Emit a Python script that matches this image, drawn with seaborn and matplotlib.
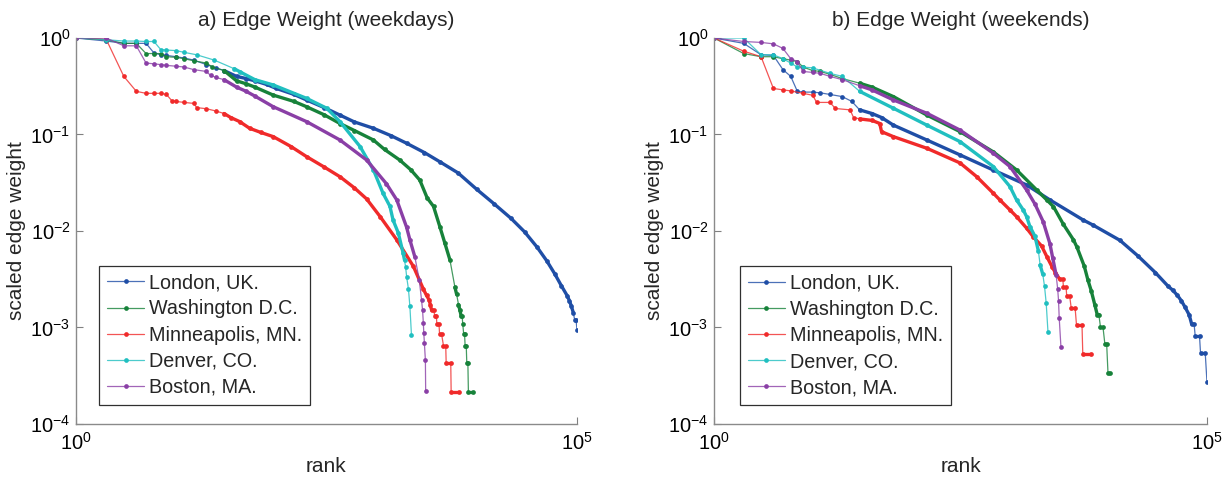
import matplotlib
matplotlib.use("Agg")
import matplotlib.pyplot as plt
import seaborn as sns
import pandas as pd
import numpy as np
from matplotlib.ticker import LogLocator, NullLocator, FixedLocator

sns.set_style("white")
plt.rcParams["font.family"] = ["Liberation Sans", "DejaVu Sans"]
plt.rcParams["mathtext.fontset"] = "custom"
plt.rcParams["mathtext.rm"] = "Liberation Sans"

cities = ["London, UK.", "Washington D.C.", "Minneapolis, MN.", "Denver, CO.", "Boston, MA."]
colors = ["#1f4ea6", "#17823a", "#f02a2a", "#20bfc0", "#8a3fa6"]
titles = ["a) Edge Weight (weekdays)", "b) Edge Weight (weekends)"]

# ---------------- weekdays ----------------
wd_london_rank = [1, 2, 3, 4, 5, 6, 7, 8, 10, 12, 15, 20, 25, 30, 40, 50, 61, 80, 100, 150, 200, 300, 430, 600,
                  930, 1400, 2000, 3000, 4300, 6500, 10000, 15000, 22000, 30000, 40000, 50000, 60000, 70000,
                  80000, 84000, 88000, 92000, 95000, 98000, 100000]
wd_london_w = [1.0, 0.93, 0.88, 0.88, 0.88, 0.70, 0.67, 0.66, 0.64, 0.62, 0.59, 0.53, 0.49, 0.46, 0.40, 0.38, 0.36,
               0.33, 0.30, 0.26, 0.228, 0.19, 0.159, 0.135, 0.116, 0.097, 0.081, 0.065, 0.052, 0.040, 0.027,
               0.019, 0.0135, 0.0098, 0.0068, 0.0049, 0.0036, 0.0027, 0.00213, 0.0019, 0.00166, 0.00142,
               0.00119, 0.00119, 0.00095]

wd_wash_rank = [1, 2, 3, 4, 5, 6, 7, 8, 10, 12, 15, 20, 23, 30, 40, 50, 61, 93, 150, 200, 300, 431, 600, 930,
                1200, 1700, 2200, 2700, 3200, 3700, 4290, 4800, 5400, 6060, 6300, 6570, 6800, 7000, 7150, 7250,
                7400, 7550, 7650, 7850, 7950, 8150, 8250, 9200]
wd_wash_w = [1.0, 0.96, 0.88, 0.88, 0.69, 0.69, 0.69, 0.64, 0.63, 0.61, 0.58, 0.55, 0.50, 0.46, 0.36, 0.335,
             0.31, 0.256, 0.22, 0.194, 0.16, 0.13, 0.11, 0.0877, 0.07, 0.0544, 0.043, 0.0337, 0.022, 0.018,
             0.011, 0.0075, 0.005, 0.0026, 0.0022, 0.00173, 0.0015, 0.0013, 0.0013, 0.00108, 0.00086,
             0.00086, 0.00065, 0.00065, 0.00043, 0.00043, 0.000216, 0.000216]

wd_minn_rank = [1, 2, 3, 4, 5, 6, 7, 8, 9, 10, 12, 15, 16, 20, 25, 30, 35, 43, 54, 70, 93, 140, 200, 300, 431,
                600, 795, 1085, 1590, 2330, 2930, 3150, 3350, 3450, 3550, 3740, 3800, 3950, 4000, 4200, 4250,
                4450, 4650, 4900, 4950, 5500, 5550, 6700]
wd_minn_w = [1.0, 0.97, 0.40, 0.28, 0.267, 0.267, 0.267, 0.26, 0.225, 0.22, 0.215, 0.21, 0.19, 0.185, 0.175,
             0.165, 0.15, 0.136, 0.116, 0.105, 0.095, 0.075, 0.059, 0.046, 0.0365, 0.028, 0.0215, 0.0141,
             0.0081, 0.0043, 0.0025, 0.00215, 0.00193, 0.0017, 0.0015, 0.0015, 0.0013, 0.0013, 0.00108,
             0.00108, 0.00086, 0.00086, 0.00065, 0.00065, 0.00043, 0.00043, 0.000215, 0.000215]

wd_denv_rank = [1, 2, 3, 4, 5, 6, 7, 8, 10, 12, 16, 24, 38, 43, 61, 93, 200, 318, 431, 684, 930, 1160, 1360,
                1460, 1650, 1840, 1900, 1950, 2000, 2080, 2150, 2230]
wd_denv_w = [1.0, 0.96, 0.93, 0.93, 0.92, 0.92, 0.76, 0.75, 0.74, 0.71, 0.67, 0.59, 0.48, 0.448, 0.37, 0.326,
             0.237, 0.187, 0.136, 0.075, 0.043, 0.0246, 0.018, 0.013, 0.0095, 0.0059, 0.005, 0.0042, 0.0033,
             0.0025, 0.00166, 0.00083]

wd_bost_rank = [1, 2, 3, 4, 5, 6, 7, 8, 10, 12, 15, 20, 22, 25, 30, 40, 50, 61, 93, 200, 431, 795, 1250, 1590,
                1990, 2150, 2410, 2670, 2810, 2880, 2930, 2960, 3000, 3070, 3090]
wd_bost_w = [1.0, 1.0, 0.83, 0.83, 0.55, 0.54, 0.53, 0.52, 0.51, 0.50, 0.47, 0.45, 0.41, 0.39, 0.37, 0.31,
             0.28, 0.25, 0.194, 0.136, 0.0877, 0.0544, 0.031, 0.021, 0.011, 0.0081, 0.0054, 0.0031, 0.00193,
             0.0015, 0.0011, 0.00088, 0.00069, 0.00046, 0.00022]

# ---------------- weekends ----------------
we_london_rank = [1, 2, 3, 4, 5, 6, 7, 8, 10, 12, 15, 20, 25, 30, 40, 50, 66, 144, 313, 681, 1480, 2550, 5550,
                  7000, 13100, 20000, 30000, 40000, 45000, 50000, 55000, 60000, 66000, 70000, 74000, 76000,
                  84000, 86000, 96000, 100000]
we_london_w = [1.0, 0.88, 0.67, 0.66, 0.47, 0.40, 0.28, 0.275, 0.275, 0.27, 0.26, 0.247, 0.22, 0.18, 0.165,
               0.15, 0.125, 0.0877, 0.0614, 0.0428, 0.030, 0.021, 0.013, 0.0115, 0.0080, 0.0055, 0.0037,
               0.0027, 0.00243, 0.00216, 0.00189, 0.00162, 0.00135, 0.00108, 0.00108, 0.00081, 0.00081,
               0.00054, 0.00054, 0.00027]

we_wash_rank = [1, 2, 3, 4, 5, 6, 7, 8, 10, 12, 15, 20, 30, 40, 66, 144, 313, 681, 1175, 1875, 2370, 2770,
                3480, 4420, 4800, 5700, 6200, 6700, 7300, 7700, 8000, 8300, 8800, 9200, 9600, 9900, 10500]
we_wash_w = [1.0, 0.69, 0.64, 0.64, 0.61, 0.59, 0.57, 0.50, 0.46, 0.45, 0.42, 0.38, 0.34, 0.31, 0.247, 0.159,
             0.107, 0.066, 0.0428, 0.0266, 0.021, 0.0179, 0.0118, 0.0081, 0.0068, 0.0043, 0.0031, 0.0024,
             0.0017, 0.00136, 0.00136, 0.00102, 0.00102, 0.00068, 0.00068, 0.00034, 0.00034]

we_minn_rank = [1, 2, 3, 4, 5, 6, 8, 10, 11, 15, 17, 24, 26, 30, 40, 48, 50, 66, 144, 313, 461, 681, 792,
                1005, 1170, 1480, 1730, 2100, 2380, 2700, 2900, 3220, 3450, 3500, 3720, 3780, 4050, 4200, 4600,
                4750, 5400, 5500, 6700]
we_minn_w = [1.0, 0.73, 0.64, 0.30, 0.29, 0.283, 0.267, 0.255, 0.215, 0.215, 0.186, 0.18, 0.15, 0.145, 0.14,
             0.13, 0.107, 0.095, 0.072, 0.0507, 0.0366, 0.0246, 0.021, 0.0165, 0.0141, 0.0107, 0.0087, 0.007,
             0.0054, 0.0042, 0.0037, 0.00315, 0.00315, 0.00263, 0.00263, 0.0021, 0.0021, 0.00158, 0.00158,
             0.00105, 0.00105, 0.000525, 0.000525]

we_denv_rank = [1, 2, 3, 4, 5, 6, 7, 8, 10, 15, 20, 30, 66, 144, 313, 681, 1005, 1170, 1370, 1480, 1600, 1800,
                1950, 2030, 2160, 2250, 2340, 2440]
we_denv_w = [1.0, 1.0, 0.67, 0.67, 0.61, 0.55, 0.50, 0.50, 0.49, 0.43, 0.40, 0.28, 0.187, 0.125, 0.0843,
             0.0465, 0.0288, 0.021, 0.0165, 0.0141, 0.0111, 0.0088, 0.0062, 0.00445, 0.00356, 0.00267,
             0.00178, 0.00089]

we_bost_rank = [1, 2, 3, 4, 5, 6, 7, 8, 10, 12, 15, 20, 30, 40, 66, 144, 313, 681, 1005, 1480, 1800, 2180,
                2550, 2730, 2950, 3060, 3120, 3170, 3300]
we_bost_w = [1.0, 0.92, 0.90, 0.87, 0.78, 0.61, 0.57, 0.45, 0.44, 0.43, 0.40, 0.37, 0.32, 0.29, 0.228, 0.166,
             0.111, 0.064, 0.0465, 0.0266, 0.019, 0.0125, 0.0074, 0.0052, 0.0035, 0.0025, 0.0019, 0.00126,
             0.00063]

panels = [
    [(wd_london_rank, wd_london_w), (wd_wash_rank, wd_wash_w), (wd_minn_rank, wd_minn_w),
     (wd_denv_rank, wd_denv_w), (wd_bost_rank, wd_bost_w)],
    [(we_london_rank, we_london_w), (we_wash_rank, we_wash_w), (we_minn_rank, we_minn_w),
     (we_denv_rank, we_denv_w), (we_bost_rank, we_bost_w)],
]


def dense_runs(rk, wt, min_rank=30, max_steep=5.0):
    """Group consecutive gentle segments (where the original's markers merge into a thick trace)."""
    lr = np.log10(rk)
    lw = np.log10(wt)
    runs, cur = [], []
    for i in range(len(rk) - 1):
        dx = (lr[i + 1] - lr[i]) * 100.0
        dy = abs(lw[i + 1] - lw[i]) * 96.5
        gentle = rk[i] >= min_rank and dx > 0 and dy / dx < max_steep
        if gentle:
            if not cur:
                cur = [i]
            cur.append(i + 1)
        else:
            if len(cur) > 1:
                runs.append(cur)
            cur = []
    if len(cur) > 1:
        runs.append(cur)
    rows = []
    for k, idx in enumerate(runs):
        for j in idx:
            rows.append({"rank": rk[j], "weight": wt[j], "seg": k})
    return pd.DataFrame(rows)


fig = plt.figure(figsize=(12.26, 4.78), dpi=100)
axes = [fig.add_axes([0.0620, 0.1130, 0.4086, 0.8075]),
        fig.add_axes([0.5824, 0.1130, 0.4021, 0.8075])]
legend_anchor = [(0.046, 0.050), (0.052, 0.049)]

for ax, series, title, anchor in zip(axes, panels, titles, legend_anchor):
    for (rk, wt), city, col in zip(series, cities, colors):
        df = pd.DataFrame({"rank": rk, "weight": wt})
        line_col = matplotlib.colors.to_rgba(col, 0.8)
        sns.lineplot(data=df, x="rank", y="weight", ax=ax, color=line_col, linewidth=0.9,
                     marker="o", markersize=3.4, markeredgewidth=0, markerfacecolor=col,
                     estimator=None, sort=False, label=city)
        thick = dense_runs(rk, wt)
        if len(thick):
            sns.lineplot(data=thick, x="rank", y="weight", units="seg", ax=ax, color=col,
                         linewidth=2.4, estimator=None, sort=False, legend=False,
                         solid_capstyle="round", solid_joinstyle="round")
    ax.set_xscale("log")
    ax.set_yscale("log")
    ax.set_xlim(1, 1e5)
    ax.set_ylim(1e-4, 1)
    ax.xaxis.set_major_locator(FixedLocator([1, 1e5]))
    ax.xaxis.set_minor_locator(NullLocator())
    ax.yaxis.set_major_locator(LogLocator(base=10, numticks=10))
    ax.yaxis.set_minor_locator(LogLocator(base=10, subs=range(2, 10), numticks=10))
    ax.tick_params(axis="both", which="both", direction="in", colors="#808080", labelcolor="black",
                   labelsize=14.5)
    ax.tick_params(axis="y", which="major", length=5, pad=4)
    ax.tick_params(axis="y", which="minor", length=3)
    ax.tick_params(axis="x", which="major", length=5, pad=6)
    ax.tick_params(left=True, bottom=True)
    for s in ["top", "right"]:
        ax.spines[s].set_visible(False)
    for s in ["left", "bottom"]:
        ax.spines[s].set_color("#8a8a8a")
        ax.spines[s].set_linewidth(1.0)
    ax.set_xlabel("rank", fontsize=15, labelpad=2)
    ax.set_ylabel("scaled edge weight", fontsize=15, labelpad=3)
    ax.set_title(title, fontsize=15, pad=9)
    leg = ax.legend(loc="lower left", bbox_to_anchor=anchor, fontsize=14.2, frameon=True, fancybox=False,
                    edgecolor="#303030", framealpha=1, handlelength=1.9, handletextpad=0.25,
                    labelspacing=0.36, borderpad=0.4, borderaxespad=0)
    leg.get_frame().set_linewidth(0.9)

fig.savefig("out.png", dpi=100)
